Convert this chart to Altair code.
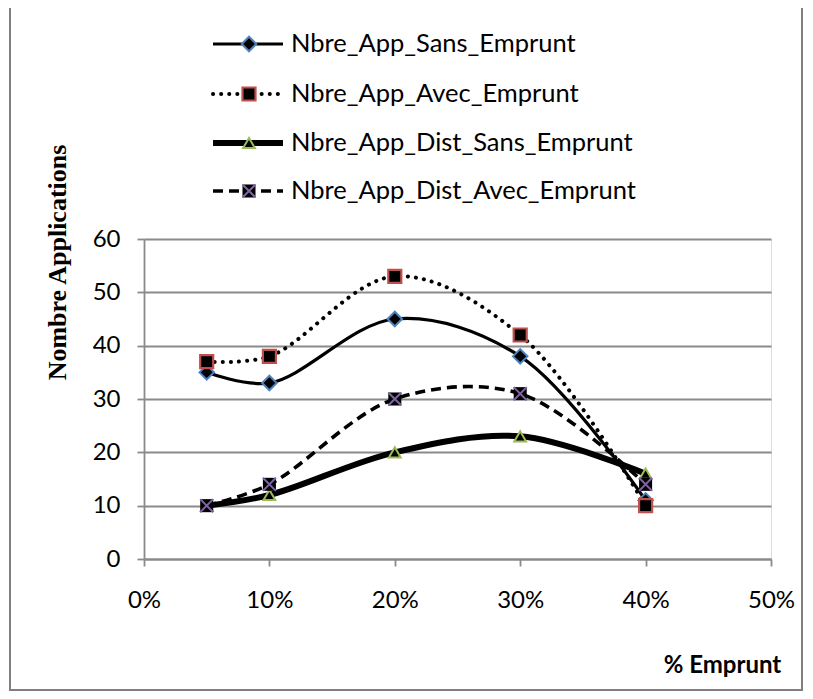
import altair as alt
import pandas as pd

# ---- data ----
pct = [0.05, 0.10, 0.20, 0.30, 0.40]
sans = [35, 33, 45, 38, 11]
avec = [37, 38, 53, 42, 10]
dist_sans = [10, 12, 20, 23, 16]
dist_avec = [10, 14, 30, 31, 14]
series_names = [
    "Nbre_App_Sans_Emprunt",
    "Nbre_App_Avec_Emprunt",
    "Nbre_App_Dist_Sans_Emprunt",
    "Nbre_App_Dist_Avec_Emprunt",
]
x_ticks = [0, 0.1, 0.2, 0.3, 0.4, 0.5]
y_ticks = [0, 10, 20, 30, 40, 50, 60]

values = [sans, avec, dist_sans, dist_avec]
rows = []
for name, vals in zip(series_names, values):
    for p, v in zip(pct, vals):
        rows.append({"series": name, "pct": p, "value": v})
df = pd.DataFrame(rows)

FONT = "Lato"
FS = 24
LEG_FS = 25.5
GRAY = "#8a8a8a"

line_styles = {
    series_names[0]: dict(strokeWidth=3.2),
    series_names[1]: dict(strokeWidth=4, strokeDash=[0.1, 8], strokeCap="round"),
    series_names[2]: dict(strokeWidth=6),
    series_names[3]: dict(strokeWidth=3.6, strokeDash=[10, 6]),
}

x_enc = alt.X(
    "pct:Q",
    scale=alt.Scale(domain=[0, 0.5], nice=False),
    axis=alt.Axis(
        values=x_ticks, format=".0%", grid=False,
        domainColor=GRAY, domainWidth=1.8, tickColor=GRAY, tickWidth=1.8, tickSize=7,
        labelFont=FONT, labelFontSize=FS, labelColor="black", labelPadding=34,
        labelBaseline="middle", labelFlush=False,
        title="% Emprunt", titleFont=FONT, titleFontSize=FS, titleFontWeight="bold",
        titleColor="black", titleX=578, titleY=106, titleAlign="center",
        titleBaseline="middle", titleAnchor="start",
    ),
)
y_enc = alt.Y(
    "value:Q",
    scale=alt.Scale(domain=[0, 60], nice=False),
    axis=alt.Axis(
        values=y_ticks, grid=True, gridColor=GRAY, gridWidth=1.8,
        domainColor=GRAY, domainWidth=1.8, tickColor=GRAY, tickWidth=1.8, tickSize=7,
        labelFont=FONT, labelFontSize=FS, labelColor="black", labelPadding=17,
        title="Nombre Applications", titleFont="Liberation Serif", titleFontSize=26,
        titleFontWeight="bold", titleColor="black", titleX=-87, titleY=23,
        titleAngle=270, titleAlign="center", titleBaseline="middle", titleAnchor="start",
    ),
)

base = alt.Chart(df)
layers = []

# outer frame
dummy = alt.Chart(pd.DataFrame({"a": [0]}))
layers.append(
    dummy.mark_rect(filled=False, stroke="#7f7f7f", strokeWidth=2).encode(
        x=alt.value(-134), x2=alt.value(658), y=alt.value(-234), y2=alt.value(451)
    )
)

# data lines
for name in series_names:
    layers.append(
        base.transform_filter(alt.datum.series == name)
        .mark_line(color="black", interpolate="catmull-rom", **line_styles[name])
        .encode(x=x_enc, y=y_enc)
    )


def markers(chart, name, xv=None, yv=None):
    """Return marker layers for a series; xv/yv override positions for the legend."""
    enc = {"x": x_enc, "y": y_enc} if xv is None else {"x": alt.value(xv), "y": alt.value(yv)}
    out = []
    if name == series_names[0]:
        out.append(chart.mark_point(shape="diamond", filled=True, fill="black", stroke="#4F81BD",
                                    strokeWidth=2, size=210, opacity=1).encode(**enc))
    elif name == series_names[1]:
        out.append(chart.mark_point(shape="square", filled=True, fill="black", stroke="#C0504D",
                                    strokeWidth=2.2, size=170, opacity=1).encode(**enc))
    elif name == series_names[2]:
        out.append(chart.mark_point(shape="triangle-up", filled=True, fill="black", stroke="#9BBB59",
                                    strokeWidth=2, size=140, opacity=1).encode(**enc))
    else:
        out.append(chart.mark_point(shape="square", filled=True, fill="black", strokeWidth=0,
                                    size=170, opacity=1).encode(**enc))
        out.append(chart.mark_point(shape="M-1,-1L1,1M1,-1L-1,1", filled=False, stroke="#8064A2",
                                    strokeWidth=2, size=170, opacity=1).encode(**enc))
    return out


for name in series_names:
    layers.extend(markers(base.transform_filter(alt.datum.series == name), name))

# legend (drawn above the plot, inside the frame)
leg_y = [-195, -145, -96, -48]
for i, name in enumerate(series_names):
    st = dict(line_styles[name])
    layers.append(
        dummy.mark_rule(color="black", **st).encode(
            x=alt.value(69), x2=alt.value(139), y=alt.value(leg_y[i])
        )
    )
    layers.extend(markers(dummy, name, 105, leg_y[i]))
    layers.append(
        dummy.mark_text(align="left", baseline="middle", font=FONT, fontSize=LEG_FS, color="black").encode(
            x=alt.value(147), y=alt.value(leg_y[i]), text=alt.value(name)
        )
    )

chart = (
    alt.layer(*layers)
    .properties(
        width=627, height=320, autosize="none",
        padding={"left": 136, "top": 231, "right": 34, "bottom": 135},
    )
    .configure_view(stroke=None)
    .configure(background="white")
)

chart.save("out.html", embed_options={"renderer": "svg", "actions": False})
